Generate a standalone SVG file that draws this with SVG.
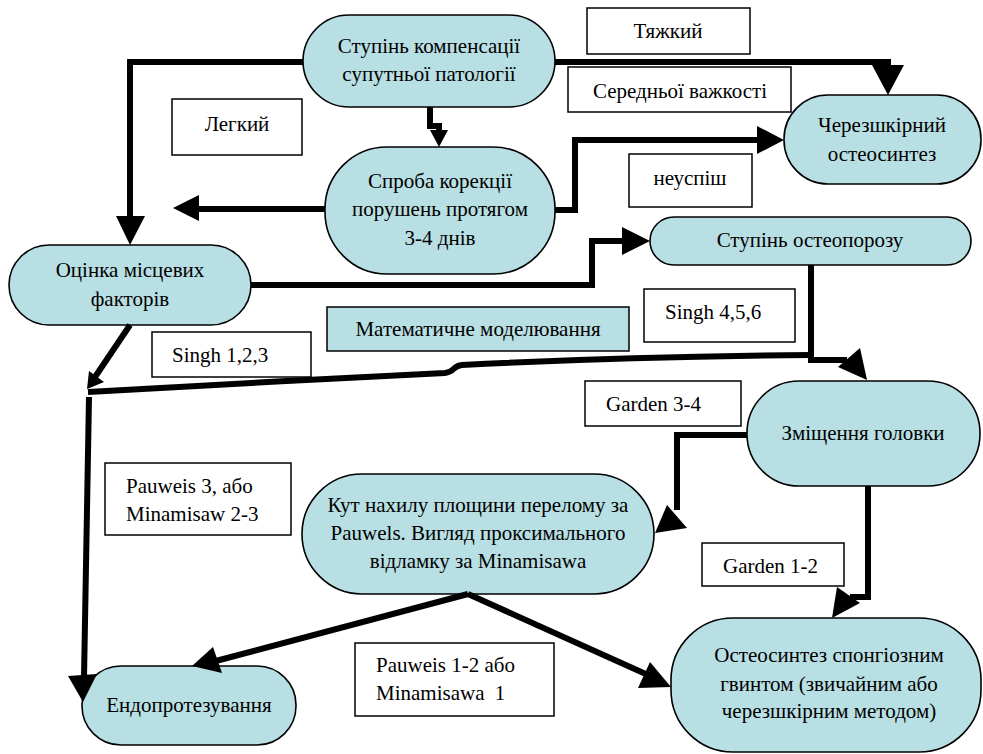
<svg xmlns="http://www.w3.org/2000/svg" width="983" height="754" viewBox="0 0 983 754">
<rect width="983" height="754" fill="#fff"/>
<g id="node-compensation"><rect fill="#b8dfe3" stroke="#000" stroke-width="1.6" x="303" y="15" width="252" height="92" rx="46"/><text font-family="Liberation Serif" font-size="21" text-anchor="middle" x="429" y="53">Ступінь компенсації</text><text font-family="Liberation Serif" font-size="21" text-anchor="middle" x="429" y="81">супутньої патології</text></g>
<g id="node-correction"><rect fill="#b8dfe3" stroke="#000" stroke-width="1.6" x="325" y="147" width="230" height="127" rx="62"/><text font-family="Liberation Serif" font-size="21" text-anchor="middle" x="440" y="188">Спроба корекції</text><text font-family="Liberation Serif" font-size="21" text-anchor="middle" x="440" y="216">порушень протягом</text><text font-family="Liberation Serif" font-size="21" text-anchor="middle" x="440" y="245">3-4 днів</text></g>
<g id="node-percutaneous"><rect fill="#b8dfe3" stroke="#000" stroke-width="1.6" x="784" y="95" width="197" height="89" rx="44"/><text font-family="Liberation Serif" font-size="21" text-anchor="middle" x="882" y="132">Черезшкірний</text><text font-family="Liberation Serif" font-size="21" text-anchor="middle" x="882" y="161">остеосинтез</text></g>
<g id="node-osteoporosis"><rect fill="#b8dfe3" stroke="#000" stroke-width="1.6" x="650" y="217" width="321" height="48" rx="24"/><text font-family="Liberation Serif" font-size="21" text-anchor="middle" x="810" y="247">Ступінь остеопорозу</text></g>
<g id="node-local"><rect fill="#b8dfe3" stroke="#000" stroke-width="1.6" x="9" y="245" width="242" height="80" rx="40"/><text font-family="Liberation Serif" font-size="21" text-anchor="middle" x="130" y="277">Оцінка місцевих</text><text font-family="Liberation Serif" font-size="21" text-anchor="middle" x="130" y="306">факторів</text></g>
<g id="node-displacement"><rect fill="#b8dfe3" stroke="#000" stroke-width="1.6" x="747" y="381" width="233" height="105" rx="52"/><text font-family="Liberation Serif" font-size="21" text-anchor="middle" x="863" y="440">Зміщення головки</text></g>
<g id="node-angle"><rect fill="#b8dfe3" stroke="#000" stroke-width="1.6" x="302" y="474" width="352" height="120" rx="60"/><text font-family="Liberation Serif" font-size="21" text-anchor="middle" x="478" y="512">Кут нахилу площини перелому за</text><text font-family="Liberation Serif" font-size="21" text-anchor="middle" x="478" y="540">Pauwels. Вигляд проксимального</text><text font-family="Liberation Serif" font-size="21" text-anchor="middle" x="478" y="568">відламку за Minamisawa</text></g>
<g id="node-endoprosthesis"><rect fill="#b8dfe3" stroke="#000" stroke-width="1.6" x="82" y="666" width="214" height="79" rx="39"/><text font-family="Liberation Serif" font-size="21" text-anchor="middle" x="189" y="712">Ендопротезування</text></g>
<g id="node-screw"><rect fill="#b8dfe3" stroke="#000" stroke-width="1.6" x="671" y="618" width="310" height="134" rx="62"/><text font-family="Liberation Serif" font-size="21" text-anchor="middle" x="829" y="662">Остеосинтез спонгіозним</text><text font-family="Liberation Serif" font-size="21" text-anchor="middle" x="829" y="691">гвинтом (звичайним або</text><text font-family="Liberation Serif" font-size="21" text-anchor="middle" x="829" y="718">черезшкірним методом)</text></g>
<g id="labels">
<rect fill="#fff" stroke="#000" stroke-width="1.5" x="587" y="8" width="163" height="46"/><text font-family="Liberation Serif" font-size="21" text-anchor="middle" x="668" y="38">Тяжкий</text>
<rect fill="#fff" stroke="#000" stroke-width="1.5" x="568" y="67" width="223" height="45"/><text font-family="Liberation Serif" font-size="21" text-anchor="middle" x="680" y="98">Середньої важкості</text>
<rect fill="#fff" stroke="#000" stroke-width="1.5" x="172" y="99" width="130" height="56"/><text font-family="Liberation Serif" font-size="21" text-anchor="middle" x="237" y="131">Легкий</text>
<rect fill="#fff" stroke="#000" stroke-width="1.5" x="629" y="154" width="123" height="53"/><text font-family="Liberation Serif" font-size="21" text-anchor="middle" x="690" y="185">неуспіш</text>
<rect fill="#b8dfe3" stroke="#000" stroke-width="1.5" x="327" y="307" width="302" height="44"/><text font-family="Liberation Serif" font-size="21" text-anchor="middle" x="478" y="336">Математичне моделювання</text>
<rect fill="#fff" stroke="#000" stroke-width="1.5" x="152" y="332" width="159" height="45"/><text font-family="Liberation Serif" font-size="21" x="172" y="362">Singh 1,2,3</text>
<rect fill="#fff" stroke="#000" stroke-width="1.5" x="644" y="289" width="151" height="53"/><text font-family="Liberation Serif" font-size="21" x="665" y="319">Singh 4,5,6</text>
<rect fill="#fff" stroke="#000" stroke-width="1.5" x="585" y="381" width="156" height="45"/><text font-family="Liberation Serif" font-size="21" x="606" y="411">Garden 3-4</text>
<rect fill="#fff" stroke="#000" stroke-width="1.5" x="105" y="463" width="186" height="72"/><text font-family="Liberation Serif" font-size="21" x="126" y="493">Pauweis 3, або</text><text font-family="Liberation Serif" font-size="21" x="126" y="521">Minamisaw 2-3</text>
<rect fill="#fff" stroke="#000" stroke-width="1.5" x="702" y="543" width="142" height="43"/><text font-family="Liberation Serif" font-size="21" x="723" y="573">Garden 1-2</text>
<rect fill="#fff" stroke="#000" stroke-width="1.5" x="355" y="643" width="199" height="73"/><text font-family="Liberation Serif" font-size="21" x="376" y="672">Pauweis 1-2 або</text><text font-family="Liberation Serif" font-size="21" x="376" y="700">Minamisawa <tspan dx="5">1</tspan></text>
</g>
<g id="connectors" fill="none" stroke="#000" stroke-width="6">
<path d="M303,62 H130 V218"/><polygon fill="#000" stroke="none" points="116,216 145,216 130,245"/>
<path d="M555,62 H888 V68"/><polygon fill="#000" stroke="none" points="872,65 904,65 888,95"/>
<path d="M430,107 V126 H439 V132"/><polygon fill="#000" stroke="none" points="430,130 448,130 439,147"/>
<path d="M325,209 H197"/><polygon fill="#000" stroke="none" points="173,208 199,195 199,221"/>
<path d="M555,210 H575 V140 H760"/><polygon fill="#000" stroke="none" points="757,126 757,154 784,140"/>
<path d="M251,285 H592 V241 H625"/><polygon fill="#000" stroke="none" points="622,227 622,255 650,241"/>
<path d="M811,265 V360 H847"/><polygon fill="#000" stroke="none" points="838,367 860,348 867,380"/>
<path d="M811,355 C700,356 560,360 462,365 C452,366 455,372 445,373 C330,378 200,386 88,392"/>
<path d="M130,325 L95,377"/><polygon fill="#000" stroke="none" points="89,371 104,382 87,389"/>
<path d="M89,397 L84,678"/><polygon fill="#000" stroke="none" points="68,676 97,674 83,702"/>
<path d="M747,435 H677 V510"/><polygon fill="#000" stroke="none" points="667,505 687,528 655,533"/>
<path d="M868,486 V597 H850"/><polygon fill="#000" stroke="none" points="837,587 860,603 832,618"/>
<path d="M468,594 L212,662"/><polygon fill="#000" stroke="none" points="213,647 222,673 192,666"/>
<path d="M468,594 L648,675"/><polygon fill="#000" stroke="none" points="650,662 638,688 671,687"/>
</g>
</svg>
